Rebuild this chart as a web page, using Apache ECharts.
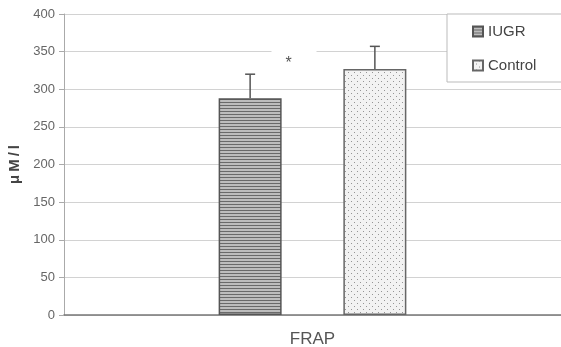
<!DOCTYPE html>
<html><head><meta charset="utf-8">
<script src="https://cdn.jsdelivr.net/npm/echarts@6/dist/echarts.min.js"></script>
<style>html,body{margin:0;padding:0;background:#fff}#c{width:561px;height:347px}</style>
</head><body><div id="c"></div>
<script>
const categories = ['FRAP'];
const seriesNames = ['IUGR', 'Control'];
const means = [288, 327];
const errors = [32, 30];
const yTicks = [0, 50, 100, 150, 200, 250, 300, 350, 400];
const sigLabel = '*';
const sigValue = 334;

function stripePattern() {
  const c = document.createElement('canvas'); c.width = 4; c.height = 3;
  const g = c.getContext('2d');
  g.fillStyle = '#bdbdbd'; g.fillRect(0, 0, 4, 3);
  g.fillStyle = '#6a6a6a'; g.fillRect(0, 0, 4, 1);
  return c;
}
function dotPattern() {
  const c = document.createElement('canvas'); c.width = 6; c.height = 6;
  const g = c.getContext('2d');
  g.fillStyle = '#f2f2f2'; g.fillRect(0, 0, 6, 6);
  g.fillStyle = '#959595'; g.fillRect(0, 0, 1, 1); g.fillRect(3, 3, 1, 1);
  return c;
}
const fills = [{image: stripePattern(), repeat: 'repeat'}, {image: dotPattern(), repeat: 'repeat'}];
const borders = ['#555', '#666'];

const chart = echarts.init(document.getElementById('c'), null, {renderer: 'canvas'});
const barWidth = 63;
const barGapRatio = 0.98;
const FONT = '"Liberation Sans", Arial';

const series = seriesNames.map((n, i) => ({
  name: n, type: 'bar', data: [means[i]], barWidth: barWidth, barGap: (barGapRatio * 100) + '%',
  itemStyle: {color: fills[i], borderColor: borders[i], borderWidth: 1.5},
  z: 2
}));
// error bars
seriesNames.forEach((n, i) => {
  series.push({
    type: 'custom', name: n + '_err', z: 3, silent: true,
    data: [[0, means[i], errors[i]]],
    renderItem: function (params, api) {
      const n2 = seriesNames.length;
      const bw = barWidth, gap = bw * barGapRatio;
      const total = n2 * bw + (n2 - 1) * gap;
      const cx = api.coord([api.value(0), 0])[0] - total / 2 + i * (bw + gap) + bw / 2;
      const top = api.coord([0, api.value(1) + api.value(2)])[1];
      const base = api.coord([0, api.value(1)])[1];
      return {type: 'group', children: [
        {type: 'line', shape: {x1: cx, y1: base, x2: cx, y2: top}, style: {stroke: '#555', lineWidth: 1.5}},
        {type: 'line', shape: {x1: cx - 5, y1: top, x2: cx + 5, y2: top}, style: {stroke: '#555', lineWidth: 1.5}}
      ]};
    }
  });
});
// significance marker
series.push({
  type: 'custom', name: 'sig', z: 4, silent: true,
  data: [[0, sigValue]],
  renderItem: function (params, api) {
    const p = api.coord([api.value(0), api.value(1)]);
    return {type: 'group', children: [
      {type: 'rect', shape: {x: p[0] - 41, y: p[1] - 20, width: 45, height: 20}, style: {fill: '#fff'}},
      {type: 'text', x: p[0] - 24, y: p[1], style: {text: sigLabel, fill: '#555', font: '16px ' + FONT, align: 'center', verticalAlign: 'middle'}}
    ]};
  }
});

chart.setOption({
  animation: false,
  backgroundColor: '#fff',
  grid: {left: 64, right: 0, top: 14, bottom: 32, containLabel: false, outerBoundsMode: 'none'},
  legend: {
    data: seriesNames.map(n => ({name: n, icon: 'rect'})), orient: 'vertical', left: 447, top: 14,
    padding: [10, 40, 9, 25], itemGap: 19, itemWidth: 10, itemHeight: 10,
    backgroundColor: '#fff', borderColor: '#bbb', borderWidth: 1,
    textStyle: {fontFamily: FONT, fontSize: 15, color: '#444'},
    selectedMode: false
  },
  xAxis: {
    type: 'category', data: categories,
    axisLine: {lineStyle: {color: '#777', width: 1.5}},
    axisTick: {show: false},
    axisLabel: {fontFamily: FONT, fontSize: 17, color: '#555', margin: 16}
  },
  yAxis: {
    type: 'value', min: yTicks[0], max: yTicks[yTicks.length - 1], interval: yTicks[1] - yTicks[0],
    name: 'μ\u2009M\u2009/\u2009l', nameLocation: 'middle', nameGap: 41, nameRotate: 90,
    nameTextStyle: {fontFamily: FONT, fontSize: 15, fontWeight: 'bold', color: '#444'},
    axisLine: {show: true, lineStyle: {color: '#aaa'}},
    axisTick: {show: true, length: 5, lineStyle: {color: '#aaa'}},
    axisLabel: {fontFamily: FONT, fontSize: 13, color: '#666', margin: 9},
    splitLine: {lineStyle: {color: '#d2d2d2'}}
  },
  series: series
});
</script></body></html>
